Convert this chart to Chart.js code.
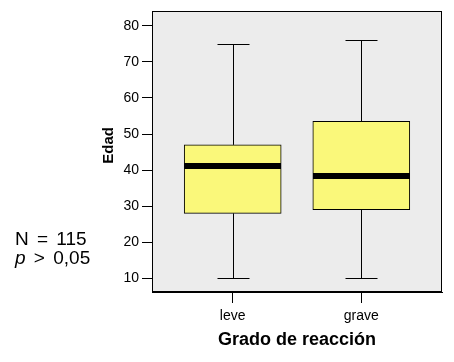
<!DOCTYPE html>
<html><head><meta charset="utf-8">
<script src="https://cdn.jsdelivr.net/npm/chart.js@4.4.0/dist/chart.umd.min.js"></script>
<style>
html,body{margin:0;padding:0;background:#fff;}
#wrap{position:relative;width:454px;height:362px;}
.note{position:absolute;left:15px;font-family:"Liberation Sans",Arial,sans-serif;font-size:19px;line-height:19px;color:#000;white-space:pre;word-spacing:3px;}
</style></head><body>
<div id="wrap"><canvas id="c" width="454" height="362"></canvas>
<div class="note" style="top:229px">N = 115</div>
<div class="note" style="top:248px"><i>p</i> &gt; 0,05</div>
</div>
<script>
const categories = ['leve', 'grave'];
const whiskerLow = [10, 10];
const q1 = [28, 29];
const median = [41, 38.5];
const q3 = [47, 53.5];
const whiskerHigh = [75, 76];
const yTicks = [10, 20, 30, 40, 50, 60, 70, 80];

const FONT = '"Liberation Sans", Arial, sans-serif';
const BOX_W = 97, CAP_W = 32, MED_W = 6;

const boxPlugin = {
  id: 'boxPlugin',
  beforeDraw(chart) {
    const {ctx, chartArea: a} = chart;
    ctx.save();
    ctx.fillStyle = '#ECECEC';
    ctx.fillRect(a.left, a.top, a.right - a.left, a.bottom - a.top);
    ctx.restore();
  },
  beforeDatasetsDraw(chart) {
    const {ctx, scales: {x, y}} = chart;
    ctx.save();
    ctx.strokeStyle = '#000';
    ctx.lineWidth = 1;
    categories.forEach((c, i) => {
      const px = Math.round(x.getPixelForValue(i + 1)) + 0.5;
      const yl = Math.round(y.getPixelForValue(whiskerLow[i])) + 0.5;
      const yh = Math.round(y.getPixelForValue(whiskerHigh[i])) + 0.5;
      const y1 = y.getPixelForValue(q1[i]);
      const y3 = y.getPixelForValue(q3[i]);
      ctx.beginPath();
      ctx.moveTo(px, yl); ctx.lineTo(px, y1);
      ctx.moveTo(px, y3); ctx.lineTo(px, yh);
      ctx.moveTo(px - CAP_W / 2, yl); ctx.lineTo(px + CAP_W / 2, yl);
      ctx.moveTo(px - CAP_W / 2, yh); ctx.lineTo(px + CAP_W / 2, yh);
      ctx.stroke();
    });
    ctx.restore();
  },
  afterDatasetsDraw(chart) {
    const {ctx, chartArea: a, scales: {x, y}} = chart;
    ctx.save();
    ctx.fillStyle = '#000';
    categories.forEach((c, i) => {
      const px = x.getPixelForValue(i + 1);
      const ym = y.getPixelForValue(median[i]);
      ctx.fillRect(Math.round(px - BOX_W / 2), Math.round(ym - MED_W / 2), BOX_W, MED_W);
    });
    ctx.strokeStyle = '#000';
    ctx.lineWidth = 1;
    ctx.strokeRect(Math.round(a.left) + 0.5, Math.round(a.top) + 0.5, Math.round(a.right - a.left) - 1, Math.round(a.bottom - a.top) - 1);
    ctx.restore();
  }
};

new Chart(document.getElementById('c'), {
  type: 'bar',
  data: {
    datasets: [{
      data: categories.map((c, i) => ({x: i + 1, y: [q1[i], q3[i]]})),
      backgroundColor: '#FAF87A',
      borderColor: '#000',
      borderWidth: 1,
      borderSkipped: false,
      barThickness: BOX_W
    }]
  },
  options: {
    responsive: false,
    animation: false,
    layout: {padding: {left: 100, top: 10, right: 12, bottom: 10}},
    plugins: {legend: {display: false}, tooltip: {enabled: false}},
    scales: {
      x: {
        type: 'linear',
        offset: false,
        min: 0.3725,
        max: 2.6275,
        afterBuildTicks: s => { s.ticks = categories.map((c, i) => ({value: i + 1})); },
        afterFit: s => { s.height = 60; },
        ticks: {
          callback: v => categories[v - 1] ?? '',
          font: {family: FONT, size: 14},
          color: '#000',
          padding: 5,
          maxRotation: 0,
          autoSkip: false
        },
        grid: {offset: false, drawOnChartArea: false, drawTicks: true, tickLength: 11, color: '#000'},
        border: {display: true, color: '#000'},
        title: {display: true, text: 'Grado de reacción', font: {family: FONT, size: 18, weight: 'bold'}, color: '#000', padding: {top: 0, bottom: 1}}
      },
      y: {
        min: 6.2,
        max: 84,
        afterBuildTicks: s => { s.ticks = yTicks.map(v => ({value: v})); },
        afterFit: s => { s.width = 52; },
        ticks: {font: {family: FONT, size: 14}, color: '#000', padding: 3},
        grid: {drawOnChartArea: false, drawTicks: true, tickLength: 10, color: '#000'},
        border: {display: true, color: '#000'},
        title: {display: true, text: '\u00A0\u00A0\u00A0Edad', font: {family: FONT, size: 15, weight: 'bold'}, color: '#000', padding: {top: 0, bottom: 0}}
      }
    }
  },
  plugins: [boxPlugin]
});
</script>
</body></html>
